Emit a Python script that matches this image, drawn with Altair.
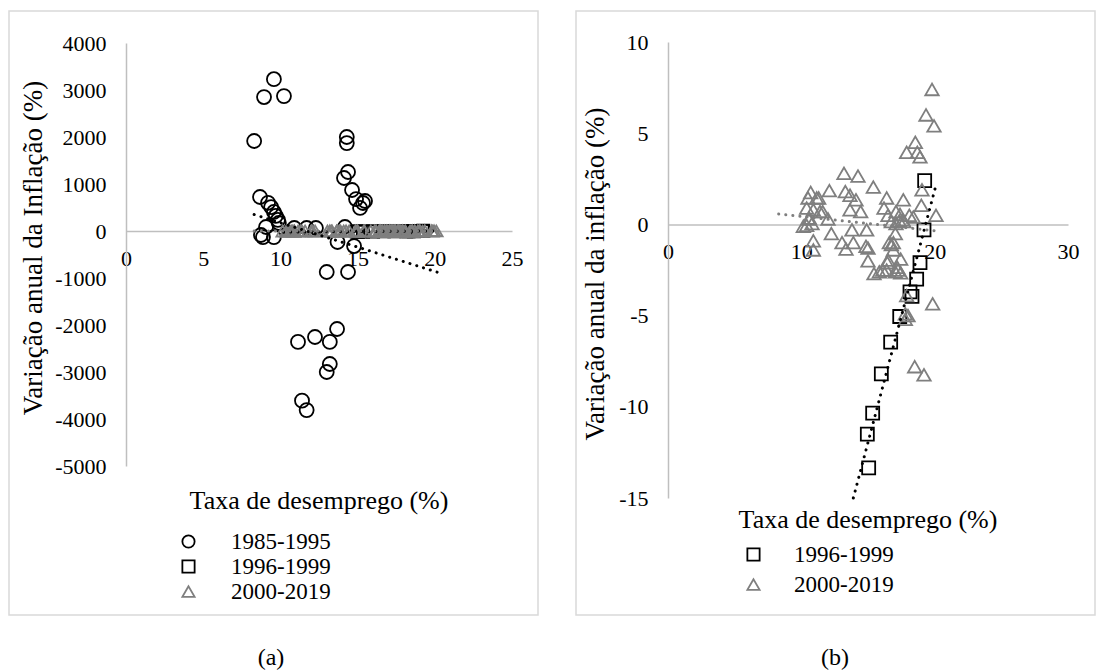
import altair as alt
import pandas as pd

FONT = "'Liberation Serif', 'Times New Roman', Times, 'DejaVu Serif', serif"
GREY = "#7F7F7F"
AXIS_GREY = "#BFBFBF"
BORDER = "#D9D9D9"

# ---------------- series ----------------
# 1985-1995 (only in panel a)
p85_x = [8.3, 8.94, 9.58, 10.23, 8.68, 9.2, 9.4, 9.58, 9.7, 9.84, 9.9, 8.74, 8.87, 9.58,
         9.07, 10.9, 11.7, 12.3, 14.18, 14.3, 14.3, 14.38, 14.12, 14.64, 14.9, 15.48,
         15.35, 15.16, 13.7, 14.77, 13.0, 14.38, 11.14, 12.24, 13.2, 13.67, 13.2, 13.0,
         11.4, 11.7]
p85_y = [1915, 2850, 3230, 2870, 723, 600, 510, 405, 320, 235, 170, -85, -130, -130,
         85, 64, 64, 64, 85, 2000, 1870, 1255, 1128, 872, 680, 638,
         596, 490, -234, -320, -872, -872, -2360, -2255, -2360, -2085, -2830, -3000,
         -3610, -3810]

# 1996-1999
p96_x = [19.25, 19.2, 18.9, 18.65, 18.15, 18.3, 17.38, 16.7, 16.0, 15.35, 14.95, 15.05]
p96_y = [2.4, -0.3, -2.1, -3.0, -3.7, -3.95, -5.05, -6.45, -8.2, -10.35, -11.5, -13.35]

# 2000-2019
p00_x = [19.8, 19.35, 19.95, 18.55, 17.9, 18.7, 18.9, 19.05, 19.0, 20.1, 18.4, 17.65, 18.1,
         13.2, 14.25, 15.4, 12.1, 10.7, 10.5, 11.3, 13.3, 13.65, 14.1, 16.4, 10.4, 10.9,
         11.6, 13.65, 14.45, 16.2, 16.5, 10.55, 10.8, 10.4, 12.0, 16.75, 17.1, 17.35, 17.7,
         12.25, 13.8, 14.9, 17.05, 10.9, 13.05, 13.9, 13.35, 10.9, 16.9, 16.75, 15.0, 15.0,
         15.45, 15.85, 16.45, 16.4, 17.05, 17.45, 17.2, 17.45, 17.9, 17.8, 18.0, 17.8, 19.85,
         18.5, 19.2, 11.15, 10.6, 10.15, 11.4, 17.1, 17.4, 17.6, 16.6, 16.9, 16.5, 17.25,
         16.1, 14.85]
p00_y = [7.4, 6.0, 5.4, 4.5, 3.95, 3.95, 3.7, 1.9, 1.05, 0.5, 0.4, 1.35, 0.5,
         2.8, 2.65, 2.05, 1.85, 1.75, 1.45, 1.45, 1.8, 1.6, 1.35, 1.45, 0.9, 0.8,
         0.7, 0.8, 0.7, 0.9, 0.5, 0.3, 0.05, -0.05, 0.3, 0.15, 0.05, 0.2, 0.15,
         -0.5, -0.3, -0.3, -0.5, -0.9, -1.0, -1.0, -1.35, -1.4, -1.0, -1.1, -1.3, -2.0,
         -2.7, -2.6, -2.1, -2.5, -2.6, -1.9, -2.35, -2.65, -3.9, -4.9, -5.0, -5.2, -4.35,
         -7.8, -8.25, 1.45, 0.35, -0.1, 0.7, 0.7, 0.55, 0.25, -1.0, -1.4, -1.95, -2.5,
         -2.5, -1.2]

# linear trend lines (end points)
t85_x = [8.3, 20.2]
t85_y = [350, -880]
t96_x = [10.2, 20.1]          # forecast range, as seen in panel (a)
t96_y = [-25.2, 2.15]
t96b_x = [13.9, 20.1]         # part inside the y range of panel (b)
t96b_y = [-15.0, 2.15]
t00_x = [8.3, 20.3]
t00_y = [0.57, -0.37]

# ---------------- labels ----------------
period_shapes = {"1985-1995": "circle", "1996-1999": "square", "2000-2019": "triangle-up"}
period_colors = {"1985-1995": "#000000", "1996-1999": "#000000", "2000-2019": GREY}

x_title = "Taxa de desemprego (%)"
y_title_a = "Variação anual da Inflação (%)"
y_title_b = "Variação anual da inflação (%)"

xa_ticks = [0, 5, 10, 15, 20, 25]
ya_ticks = [-5000, -4000, -3000, -2000, -1000, 0, 1000, 2000, 3000, 4000]
xb_ticks = [0, 10, 20, 30]
yb_ticks = [-15, -10, -5, 0, 5, 10]


def text_layer(txt, px, py, size, angle=0):
    return alt.Chart(pd.DataFrame({"t": [txt]})).mark_text(
        font=FONT, fontSize=size, color="black", angle=angle,
        align="center", baseline="middle"
    ).encode(x=alt.value(px), y=alt.value(py), text="t:N")


def build_panel(w, h, x_dom, x_px, x_vals, y_dom, y_px, y_vals,
                series, trends, leg, texts):
    zero_px = y_px[0] + (0 - y_dom[0]) / (y_dom[1] - y_dom[0]) * (y_px[1] - y_px[0])
    xs = alt.Scale(domain=x_dom, range=x_px, nice=False, zero=False)
    ys = alt.Scale(domain=y_dom, range=y_px, nice=False, zero=False)
    x_axis = alt.Axis(values=x_vals, offset=-(h - zero_px), title=None,
                      labelExpr="toString(datum.value)")
    y_axis = alt.Axis(values=y_vals, offset=-x_px[0], title=None,
                      labelExpr="toString(datum.value)")

    names = [s[0] for s in series]
    cscale = alt.Scale(domain=names, range=[period_colors[n] for n in names])
    sscale = alt.Scale(domain=names, range=[period_shapes[n] for n in names])
    legend = alt.Legend(
        orient="none", legendX=leg["x"], legendY=leg["y"], direction="vertical",
        title=None, labelFont=FONT, labelFontSize=23, labelColor="black",
        labelOffset=leg["offset"], rowPadding=leg["row"], padding=0,
        symbolSize=150, symbolStrokeWidth=1.8,
    )

    layers = []
    for name, sx, sy, size in series:
        df = pd.DataFrame({"x": sx, "y": sy, "periodo": name})
        layers.append(
            alt.Chart(df).mark_point(filled=False, size=size, strokeWidth=1.8, opacity=1)
            .encode(
                x=alt.X("x:Q", scale=xs, axis=x_axis),
                y=alt.Y("y:Q", scale=ys, axis=y_axis),
                color=alt.Color("periodo:N", scale=cscale, legend=legend),
                shape=alt.Shape("periodo:N", scale=sscale, legend=legend),
            )
        )
    for tx, ty, col in trends:
        df = pd.DataFrame({"x": tx, "y": ty})
        layers.append(
            alt.Chart(df).mark_line(color=col, strokeWidth=3, strokeDash=[0.1, 7],
                                    strokeCap="round")
            .encode(x=alt.X("x:Q", scale=xs, axis=x_axis),
                    y=alt.Y("y:Q", scale=ys, axis=y_axis))
        )
    for t in texts:
        layers.append(text_layer(*t))

    return alt.layer(*layers).properties(width=w, height=h)


left = build_panel(
    529, 604, [0, 25], [117, 503], xa_ticks, [-5000, 4000], [455, 32], ya_ticks,
    series=[("1985-1995", p85_x, p85_y, 196),
            ("1996-1999", p96_x, p96_y, 150),
            ("2000-2019", p00_x, p00_y, 160)],
    trends=[(t85_x, t85_y, "black"), (t96_x, t96_y, "black"), (t00_x, t00_y, GREY)],
    leg={"x": 168, "y": 519, "offset": 31, "row": 1},
    texts=[(x_title, 310, 490, 26),
           (y_title_a, 25, 237, 27, 270),
           ("(a)", 262, 647, 24)],
)

right = build_panel(
    519, 604, [0, 30], [92, 492], xb_ticks, [-15, 10], [487, 31], yb_ticks,
    series=[("1996-1999", p96_x, p96_y, 169),
            ("2000-2019", p00_x, p00_y, 180)],
    trends=[(t96b_x, t96b_y, "black"), (t00_x, t00_y, GREY)],
    leg={"x": 166, "y": 532, "offset": 29, "row": 6},
    texts=[(x_title, 292, 509, 26),
           (y_title_b, 20, 263, 27, 270),
           ("(b)", 259, 647, 24)],
)

chart = (
    alt.hconcat(left, right, spacing=36)
    .resolve_scale(x="independent", y="independent", color="independent", shape="independent")
    .resolve_legend(color="independent", shape="independent")
    .properties(padding={"left": 8, "top": 10, "right": 0, "bottom": 0}, background="white")
    .configure_view(stroke=BORDER, strokeWidth=1.5)
    .configure_axis(grid=False, ticks=False, domainColor=AXIS_GREY, domainWidth=1.5,
                    labelFont=FONT, labelFontSize=22, labelColor="black",
                    labelFlush=False, labelOverlap=False)
    .configure_axisX(labelPadding=17)
    .configure_axisY(labelPadding=20)
)

chart.save("out.html", embed_options={"renderer": "svg", "actions": False})
